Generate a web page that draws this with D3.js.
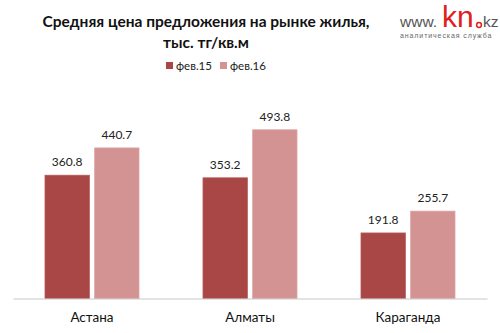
<!DOCTYPE html>
<html>
<head>
<meta charset="utf-8">
<script src="https://cdn.jsdelivr.net/npm/d3@7/dist/d3.min.js"></script>
<style>
  html, body { margin: 0; padding: 0; background: #fff; }
  svg { display: block; }
</style>
</head>
<body>
<svg id="chart" width="500" height="333"></svg>
<script>
// Average asking price on the housing market, thousand tenge per sq. m
const cities = ["Астана", "Алматы", "Караганда"];
const seriesNames = ["фев.15", "фев.16"];
const feb15 = [360.8, 353.2, 191.8];
const feb16 = [440.7, 493.8, 255.7];
const seriesColors = ["#A94746", "#D39392"];

const svg = d3.select("#chart");
const font = "Lato, 'Open Sans', 'Liberation Sans', sans-serif";

const x0 = d3.scaleBand().domain(cities).range([13, 487]).paddingInner(0).paddingOuter(0);
const x1 = d3.scaleBand().domain(seriesNames).range([0, 94]).paddingInner(10 / 94).paddingOuter(0);
const y = d3.scaleLinear().domain([0, 600]).range([298.5, 93.5]);

const rows = cities.map((c, i) => ({ city: c, values: [feb15[i], feb16[i]] }));

// bars
const groups = svg.append("g").selectAll("g").data(rows).join("g")
  .attr("transform", d => `translate(${x0(d.city) + (x0.bandwidth() - 94) / 2},0)`);

groups.selectAll("rect").data(d => d.values.map((v, j) => ({ s: seriesNames[j], v, j })))
  .join("rect")
  .attr("x", d => x1(d.s))
  .attr("y", d => y(d.v))
  .attr("width", x1.bandwidth())
  .attr("height", d => y(0) - y(d.v))
  .attr("fill", d => seriesColors[d.j])
  .attr("stroke", d => d.j === 0 ? "#B85856" : "#DCA5A4")
  .attr("stroke-width", 0.8);

// value labels
groups.selectAll("text").data(d => d.values.map((v, j) => ({ s: seriesNames[j], v, j })))
  .join("text")
  .attr("x", d => x1(d.s) + x1.bandwidth() / 2)
  .attr("y", d => y(d.v) - 9)
  .attr("text-anchor", "middle")
  .attr("font-family", font)
  .attr("font-size", 12)
  .attr("fill", "#222")
  .text(d => d.v.toFixed(1));

// category axis
const xAxis = svg.append("g").attr("transform", `translate(0,${y(0)})`)
  .call(d3.axisBottom(x0).tickSize(0).tickPadding(14));
xAxis.select(".domain").attr("stroke", "#C8C8C8").attr("stroke-width", 1.2);
xAxis.selectAll("text")
  .attr("font-family", font)
  .attr("font-size", 13.5)
  .attr("fill", "#111");

// title
const title = svg.append("text")
  .attr("text-anchor", "middle")
  .attr("font-family", font)
  .attr("font-weight", "bold")
  .attr("font-size", 15.5)
  .attr("fill", "#111");
title.append("tspan").attr("x", 206).attr("y", 27).text("Средняя цена предложения на рынке жилья,");
title.append("tspan").attr("x", 206).attr("y", 48).text("тыс. тг/кв.м");

// legend
const legendItems = [{ name: seriesNames[0], x: 166 }, { name: seriesNames[1], x: 220 }];
const legend = svg.append("g").selectAll("g").data(legendItems).join("g")
  .attr("transform", d => `translate(${d.x},62)`);
legend.append("rect").attr("width", 7).attr("height", 7)
  .attr("fill", (d, i) => seriesColors[i]);
legend.append("text").attr("x", 10).attr("y", 7.5)
  .attr("font-family", font).attr("font-size", 11.5).attr("fill", "#222")
  .text(d => d.name);

// site logo
const logoFont = "'Liberation Sans', Arial, sans-serif";
const logo = svg.append("g");
logo.append("text").attr("x", 400).attr("y", 27)
  .attr("font-family", logoFont).attr("font-size", 15.5)
  .attr("fill", "#555").text("www.");
logo.append("text").attr("x", 442).attr("y", 26.5)
  .attr("font-family", logoFont).attr("font-size", 30)
  .attr("fill", "#E0201B").text("kn");
logo.append("circle").attr("cx", 479).attr("cy", 25).attr("r", 2.4)
  .attr("fill", "none").attr("stroke", "#E0201B").attr("stroke-width", 1.5);
logo.append("text").attr("x", 483).attr("y", 27)
  .attr("font-family", logoFont).attr("font-size", 15.5)
  .attr("fill", "#555").text("kz");
logo.append("text").attr("x", 400).attr("y", 38)
  .attr("font-family", logoFont).attr("font-size", 7)
  .attr("letter-spacing", 0.9)
  .attr("fill", "#666").text("аналитическая служба");
</script>
</body>
</html>
